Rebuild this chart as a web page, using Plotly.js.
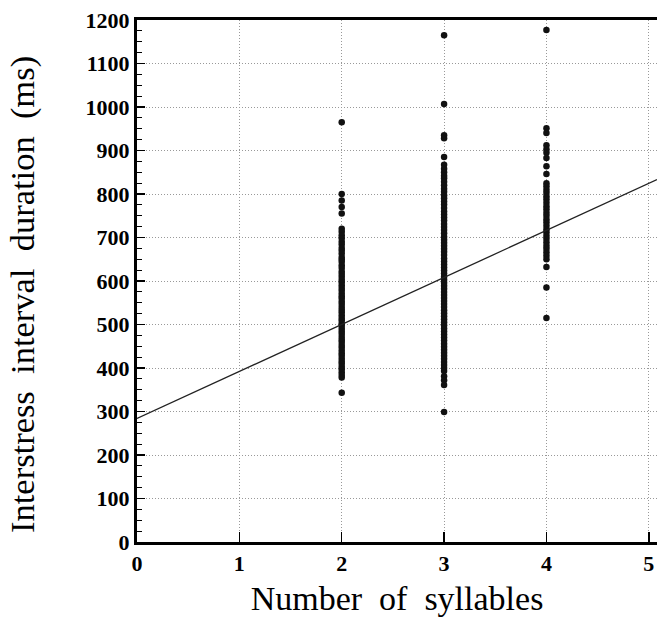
<!DOCTYPE html>
<html>
<head>
<meta charset="utf-8">
<script src="https://cdn.plot.ly/plotly-3.0.1.min.js"></script>
<style>
  html, body { margin: 0; padding: 0; background: #fff; }
  #chart { width: 657px; height: 626px; }
</style>
</head>
<body>
<div id="chart"></div>
<script>
// Interstress interval durations (ms), by number of syllables
const syllables2 = [965, 800, 785, 770, 755, 720, 713, 705, 698, 690, 684, 676, 670, 663, 655, 650, 644, 636, 630, 622, 616, 610, 603, 597, 590, 584, 578, 571, 565, 560, 553, 547, 540, 534, 528, 521, 515, 510, 503, 497, 490, 484, 478, 471, 465, 460, 453, 447, 440, 434, 428, 421, 415, 410, 403, 397, 390, 384, 378, 343];
const syllables3 = [1165, 1007, 935, 928, 885, 867, 858, 850, 842, 836, 828, 820, 812, 805, 797, 790, 783, 776, 768, 760, 753, 746, 739, 731, 724, 717, 710, 702, 695, 688, 681, 674, 667, 660, 652, 645, 638, 631, 624, 617, 610, 603, 596, 589, 582, 575, 568, 561, 554, 547, 540, 533, 526, 519, 512, 505, 498, 491, 484, 477, 470, 463, 456, 449, 442, 435, 428, 421, 414, 407, 400, 393, 381, 372, 361, 299];
const syllables4 = [1177, 951, 940, 912, 903, 895, 883, 864, 846, 825, 818, 810, 803, 795, 788, 780, 772, 765, 757, 750, 742, 735, 727, 719, 712, 704, 697, 689, 681, 674, 666, 658, 650, 632, 585, 515];

// Regression line end points (x in syllables, y in ms)
const fitX = [0, 5.08];
const fitY = [284, 833];

const xTickVals = [0, 1, 2, 3, 4, 5];
const yTickVals = [0, 100, 200, 300, 400, 500, 600, 700, 800, 900, 1000, 1100, 1200];

const xTitle = 'Number\u00a0\u00a0of\u00a0\u00a0syllables';
const yTitle = 'Interstress\u00a0\u00a0interval\u00a0\u00a0duration\u00a0\u00a0(ms)';

const pointX = [].concat(
  syllables2.map(() => 2),
  syllables3.map(() => 3),
  syllables4.map(() => 4)
);
const pointY = [].concat(syllables2, syllables3, syllables4);

const serif = 'Liberation Serif, Times New Roman, serif';

const traces = [
  {
    type: 'scatter', mode: 'markers',
    x: pointX, y: pointY,
    marker: { color: '#111', size: 6.5, line: { width: 0 } },
    hoverinfo: 'x+y', showlegend: false
  },
  {
    type: 'scatter', mode: 'lines',
    x: fitX, y: fitY,
    line: { color: '#222', width: 1.3 },
    hoverinfo: 'skip', showlegend: false
  }
];

const layout = {
  width: 657, height: 626,
  margin: { l: 137, r: 0, t: 20, b: 84 },
  paper_bgcolor: '#fff', plot_bgcolor: '#fff',
  font: { family: serif, color: '#000' },
  showlegend: false,
  xaxis: {
    range: [0, 5.08], tickvals: xTickVals, ticktext: xTickVals.map(String),
    ticks: 'inside', ticklen: 10, tickwidth: 1.5, tickcolor: '#000',
    showline: true, linewidth: 3, linecolor: '#000', mirror: true,
    showgrid: true, gridcolor: '#999', gridwidth: 1, griddash: '1px,2px',
    zeroline: false, automargin: false, ticklabeloverflow: 'allow',
    tickfont: { family: serif, size: 22, weight: 'bold', color: '#000' },
    title: { text: xTitle, font: { family: serif, size: 34, color: '#000' }, standoff: 11 }
  },
  yaxis: {
    range: [0, 1200], tickvals: yTickVals, ticktext: yTickVals.map(String),
    ticks: 'inside', ticklen: 8, tickwidth: 1.5, tickcolor: '#000',
    minor: { dtick: 25, tick0: 0, ticks: 'inside', ticklen: 5, tickwidth: 1.2, tickcolor: '#000', showgrid: false },
    showline: true, linewidth: 3, linecolor: '#000', mirror: false,
    showgrid: true, gridcolor: '#999', gridwidth: 1, griddash: '1px,2px',
    zeroline: false, automargin: false,
    tickfont: { family: serif, size: 22, weight: 'bold', color: '#000' },
    title: { text: '' }
  },
  annotations: [
    {
      text: yTitle, textangle: -90, showarrow: false,
      xref: 'paper', yref: 'paper', x: 0, y: 0.5,
      xanchor: 'center', yanchor: 'middle', xshift: -115, yshift: -14,
      font: { family: serif, size: 34.5, color: '#000' }
    }
  ]
};

Plotly.newPlot('chart', traces, layout, { staticPlot: true, displayModeBar: false });
</script>
</body>
</html>
